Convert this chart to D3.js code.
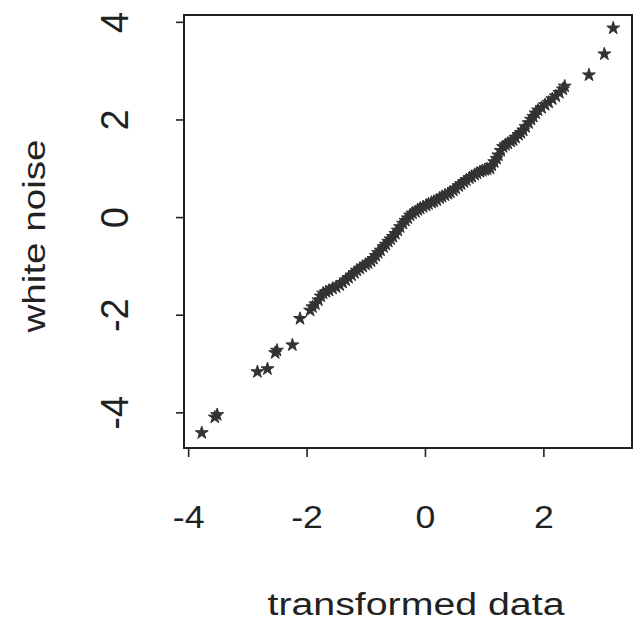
<!DOCTYPE html>
<html lang="en">
<head>
    <meta charset="utf-8">
    <title>white noise vs transformed data</title>
    <style>
        body { margin: 0; background: #fff; }
        text { font-family: "Liberation Sans", Arial, sans-serif; fill: #222; }
        .tick line { stroke: #222; stroke-width: 1.6; }
        .pt { fill: #333; stroke: #333; stroke-width: 1; }
    </style>
    <!-- load the d3.js library -->
    <script src="https://d3js.org/d3.v7.min.js"></script>
</head>
<body>
    <svg></svg>
    <script>
        // sorted samples, paired by index (qq plot)
        var transformed = [
            -3.77, -3.55, -3.51, -2.83, -2.66, -2.53, -2.50, -2.24, -2.11,
            -1.94, -1.90, -1.85, -1.80, -1.76, -1.72, -1.67, -1.62, -1.56, -1.50,
            -1.44, -1.39, -1.34, -1.29, -1.24, -1.19, -1.15, -1.10, -1.05, -1.00,
            -0.96, -0.91, -0.87, -0.83, -0.79, -0.75, -0.70, -0.66, -0.62, -0.58,
            -0.54, -0.50, -0.46, -0.42, -0.37, -0.33, -0.29, -0.25, -0.21, -0.16,
            -0.12, -0.08, -0.03, 0.02, 0.06, 0.11, 0.15, 0.20, 0.25, 0.29,
            0.34, 0.39, 0.43, 0.48, 0.52, 0.57, 0.61, 0.66, 0.70, 0.75,
            0.79, 0.84, 0.88, 0.93, 0.97, 1.01, 1.05, 1.10, 1.13, 1.17,
            1.21, 1.24, 1.28, 1.32, 1.36, 1.40, 1.45, 1.49, 1.53, 1.58,
            1.62, 1.66, 1.70, 1.75, 1.79, 1.83, 1.87, 1.91, 1.97, 2.03,
            2.09, 2.15, 2.21, 2.27, 2.33, 2.36,
            2.77, 3.03, 3.18
        ];
        var whiteNoise = [
            -4.42, -4.10, -4.05, -3.17, -3.11, -2.78, -2.73, -2.62, -2.08,
            -1.91, -1.84, -1.78, -1.70, -1.62, -1.56, -1.53, -1.50, -1.46, -1.43,
            -1.39, -1.34, -1.29, -1.24, -1.19, -1.14, -1.09, -1.05, -1.01, -0.97,
            -0.94, -0.90, -0.85, -0.79, -0.73, -0.68, -0.61, -0.56, -0.50, -0.45,
            -0.40, -0.34, -0.27, -0.20, -0.13, -0.07, -0.02, 0.04, 0.08, 0.11,
            0.15, 0.18, 0.21, 0.24, 0.27, 0.30, 0.32, 0.35, 0.39, 0.42,
            0.45, 0.48, 0.51, 0.55, 0.59, 0.64, 0.68, 0.72, 0.76, 0.80,
            0.83, 0.87, 0.90, 0.93, 0.95, 0.97, 0.98, 1.00, 1.06, 1.13,
            1.20, 1.27, 1.36, 1.44, 1.48, 1.51, 1.55, 1.58, 1.63, 1.69,
            1.73, 1.78, 1.85, 1.93, 2.00, 2.06, 2.13, 2.19, 2.24, 2.30,
            2.35, 2.42, 2.48, 2.55, 2.62, 2.68,
            2.91, 3.34, 3.87
        ];
        var xTicks = [-4, -2, 0, 2];
        var yTicks = [-4, -2, 0, 2, 4];
        var xTitle = "transformed data";
        var yTitle = "white noise";

        var margin = {top: 15, right: 2, bottom: 177, left: 184},
            width = 634 - margin.left - margin.right,
            height = 625 - margin.top - margin.bottom;

        var x = d3.scaleLinear().domain([-4.07, 3.497]).range([0, width]);
        var y = d3.scaleLinear().domain([-4.73, 4.14]).range([height, 0]);

        var svg = d3.select("svg")
            .attr("width", 634)
            .attr("height", 625);
        var g = svg.append("g")
            .attr("transform", "translate(" + margin.left + "," + margin.top + ")");

        var data = transformed.map(function(d, i) { return {x: d, y: whiteNoise[i]}; });

        // points (pch = "*")
        var star = d3.symbol().type(d3.symbolStar).size(52);
        g.selectAll(".pt")
            .data(data)
            .enter().append("path")
            .attr("class", "pt")
            .attr("d", star)
            .attr("transform", function(d) { return "translate(" + x(d.x) + "," + y(d.y) + ")"; });

        // plain hyphen labels like the original
        var fmt = function(d) { return String(d); };

        // x axis
        var xa = g.append("g")
            .attr("transform", "translate(0," + height + ")")
            .call(d3.axisBottom(x).tickValues(xTicks).tickSize(9).tickFormat(fmt));
        xa.select(".domain").remove();
        xa.selectAll(".tick text")
            .attr("y", 80).attr("dy", 0)
            .attr("font-size", 31)
            .attr("transform", "scale(1.15,1)");

        // y axis
        var ya = g.append("g")
            .call(d3.axisLeft(y).tickValues(yTicks).tickSize(8).tickFormat(fmt));
        ya.select(".domain").remove();
        ya.selectAll(".tick text")
            .attr("x", 0).attr("y", -56).attr("dy", 0)
            .attr("text-anchor", "middle")
            .attr("font-size", 38)
            .attr("transform", "rotate(-90)");

        // box
        g.append("rect")
            .attr("width", width).attr("height", height)
            .attr("fill", "none")
            .attr("stroke", "#222")
            .attr("stroke-width", 2);

        // titles
        svg.append("text")
            .attr("x", 416).attr("y", 615)
            .attr("text-anchor", "middle")
            .attr("font-size", 31)
            .attr("textLength", 297)
            .attr("lengthAdjust", "spacingAndGlyphs")
            .text(xTitle);
        svg.append("text")
            .attr("transform", "translate(45,236) rotate(-90)")
            .attr("text-anchor", "middle")
            .attr("font-size", 31)
            .attr("textLength", 193)
            .attr("lengthAdjust", "spacingAndGlyphs")
            .text(yTitle);
    </script>
</body>
</html>
